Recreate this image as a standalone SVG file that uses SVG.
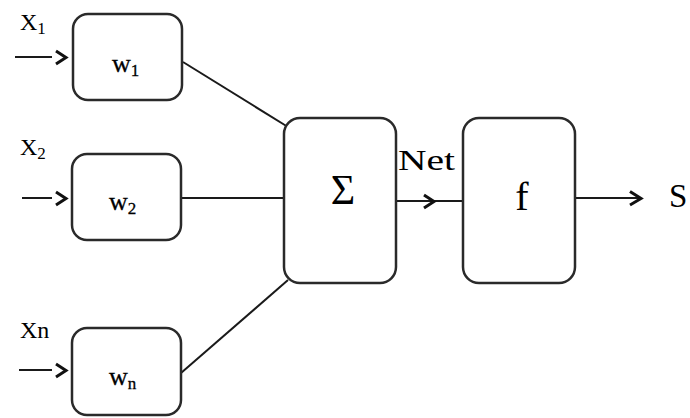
<svg xmlns="http://www.w3.org/2000/svg" width="690" height="418" viewBox="0 0 690 418">
<defs>
<style>
.box{fill:#fff;stroke:#2a2a2a;stroke-width:2.5}
.ln{fill:none;stroke:#1a1a1a;stroke-width:2}
.chev{fill:none;stroke:#111;stroke-width:3;stroke-linejoin:miter}
.t{font-family:"Liberation Serif","Times New Roman","DejaVu Serif",serif;fill:#000}
.thk{stroke:#000;stroke-width:0.3}
.lab{font-size:24px}
.w{font-size:26px}
.sub{font-size:17px}
</style>
</defs>
<rect width="690" height="418" fill="#fff"/>
<g id="connectors">
<line class="ln" x1="15" y1="57" x2="52" y2="57"/>
<polyline class="chev" points="56,51 66,57.5 56,64"/>
<line class="ln" x1="22" y1="198" x2="52" y2="198"/>
<polyline class="chev" points="56,192 66,198.5 56,205"/>
<line class="ln" x1="19" y1="370" x2="52" y2="370"/>
<polyline class="chev" points="56,364 66,370.5 56,377"/>
<line class="ln" x1="183" y1="62" x2="288" y2="127"/>
<line class="ln" x1="181" y1="198" x2="284" y2="198"/>
<line class="ln" x1="181" y1="373" x2="288" y2="280"/>
<line class="ln" x1="396" y1="201" x2="463" y2="201"/>
<polyline class="chev" points="424,195 434,201.5 424,208"/>
<line class="ln" x1="575" y1="198" x2="640" y2="198"/>
<polyline class="chev" points="630,191.5 641,198.5 630,205"/>
</g>
<g id="x1"><text class="t lab" x="20" y="30">X<tspan class="sub" dy="4">1</tspan></text></g>
<g id="x2"><text class="t lab" x="20" y="155">X<tspan class="sub" dy="4">2</tspan></text></g>
<g id="xn"><text class="t lab" x="20" y="338">Xn</text></g>
<g id="w1"><rect class="box" x="73" y="14" width="109" height="86" rx="15"/><text class="t w thk" x="112" y="72">w<tspan class="sub" dy="4">1</tspan></text></g>
<g id="w2"><rect class="box" x="72" y="154" width="109" height="86" rx="15"/><text class="t w thk" x="109" y="210">w<tspan class="sub" dy="4">2</tspan></text></g>
<g id="wn"><rect class="box" x="72" y="328" width="109" height="87" rx="15"/><text class="t w thk" x="109" y="385">w<tspan class="sub" dy="4">n</tspan></text></g>
<g id="sum"><rect class="box" x="284" y="118" width="112" height="165" rx="16"/><text class="t" x="343" y="204" font-size="42" text-anchor="middle">Σ</text></g>
<g id="net"><text class="t" x="398" y="170" font-size="30" textLength="57" lengthAdjust="spacingAndGlyphs">Net</text></g>
<g id="f"><rect class="box" x="463" y="118" width="112" height="165" rx="16"/><text class="t" x="522" y="210" font-size="40" text-anchor="middle">f</text></g>
<g id="s"><text class="t" x="669" y="207" font-size="33">S</text></g>
</svg>
